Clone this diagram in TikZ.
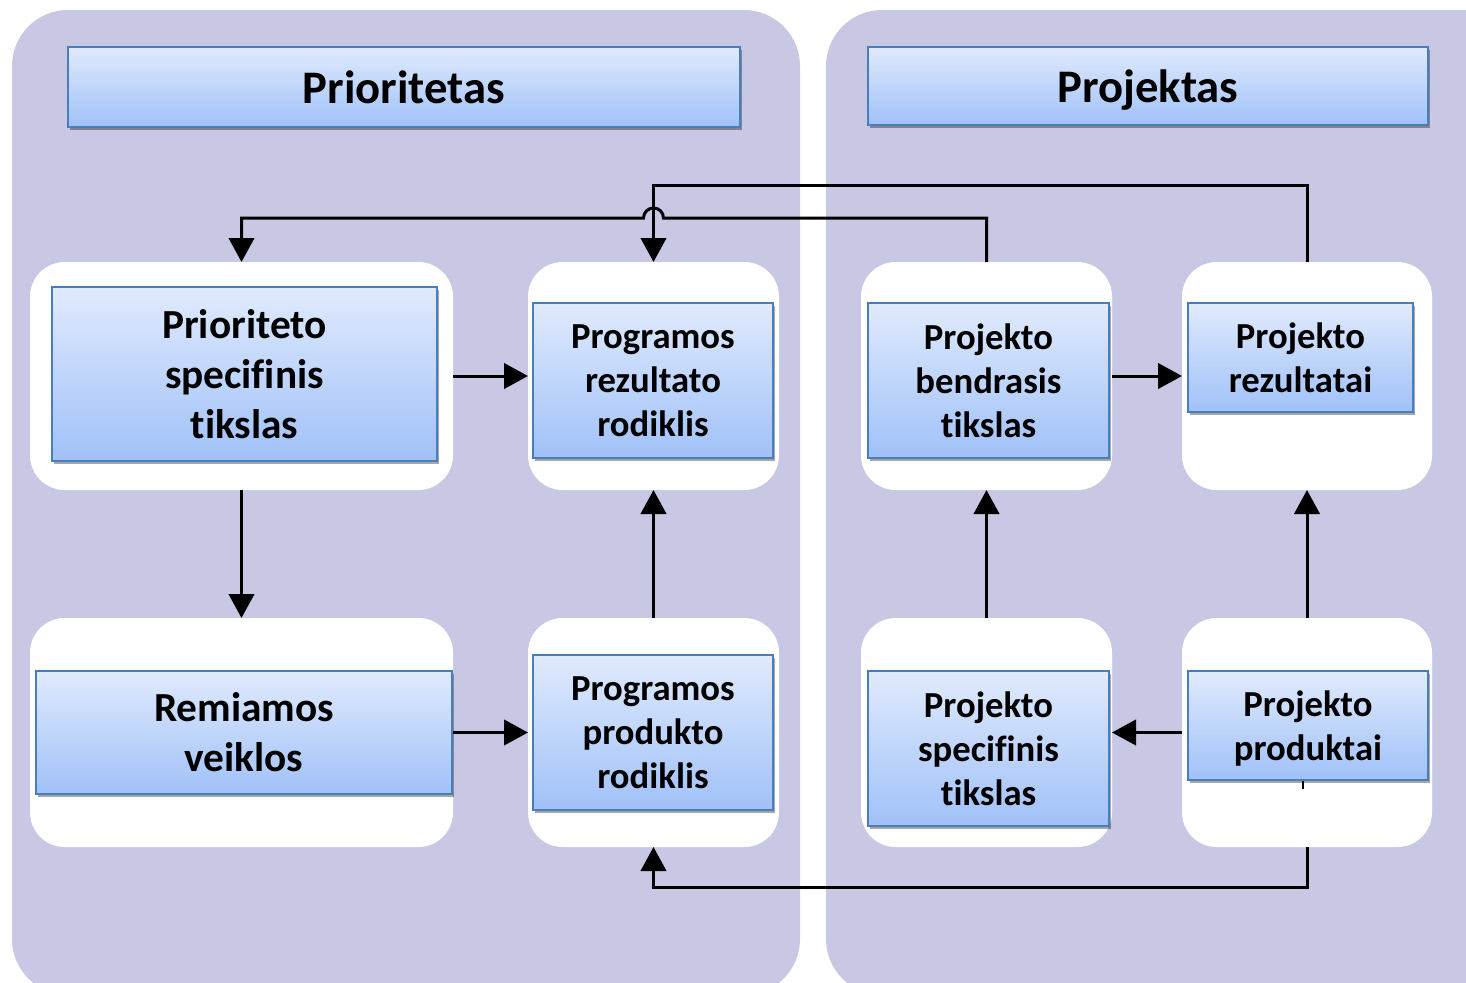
\documentclass[tikz,border=0pt]{standalone}
\usepackage{fontspec}
\setmainfont[RawFeature={-liga,-clig,-calt,-dlig,-hlig}]{Carlito}
\usetikzlibrary{arrows.meta,shadows,calc}
\definecolor{panel}{RGB}{200,200,228}
\definecolor{btop}{RGB}{224,234,253}
\definecolor{bbot}{RGB}{160,193,248}
\definecolor{bline}{RGB}{74,126,187}
\tikzset{
  wbox/.style={draw=none,fill=white,rounded corners=26pt,inner sep=0pt,outer sep=0pt},
  bbox/.style={draw=bline,line width=1.5pt,top color=btop,bottom color=bbot,inner sep=0pt,outer sep=0pt,
    align=center,font=\bfseries,
    drop shadow={shadow xshift=1.2pt,shadow yshift=-2pt,opacity=0.35,fill=black}},
  bigtxt/.style={font=\fontsize{31}{37.5}\selectfont\bfseries},
  smalltxt/.style={font=\fontsize{27.5}{33}\selectfont\bfseries},
  titletxt/.style={font=\fontsize{35}{42}\selectfont\bfseries},
  conn/.style={line width=2.25pt,-{Triangle[width=19pt,length=18pt]}},
}
\begin{document}
\begin{tikzpicture}[x=0.75pt,y=-0.75pt]
\useasboundingbox (0,0) rectangle (1466,982);
\fill[white] (0,0) rectangle (1466,982);
\begin{scope}
\clip (0,0) rectangle (1466,982);
\fill[panel,rounded corners=42pt] (12,10) rectangle (800,995);
\fill[panel,rounded corners=42pt] (826,10) rectangle (1540,995);
\end{scope}
% titles
\node[bbox,titletxt,minimum width={672*0.75pt},minimum height={80*0.75pt}] (t1) at (404,87) {Prioritetas};
\node[bbox,titletxt,text depth=0pt,minimum width={560*0.75pt},minimum height={78*0.75pt}] (t2) at (1148,86) {Projektas};
% white boxes
\node[wbox,minimum width={423*0.75pt},minimum height={228*0.75pt}] (w1) at (241.5,376) {};
\node[wbox,minimum width={251*0.75pt},minimum height={228*0.75pt}] (w2) at (653.5,376) {};
\node[wbox,minimum width={251*0.75pt},minimum height={228*0.75pt}] (w3) at (986.5,376) {};
\node[wbox,minimum width={250*0.75pt},minimum height={228*0.75pt}] (w4) at (1307,376) {};
\node[wbox,minimum width={423*0.75pt},minimum height={229*0.75pt}] (w5) at (241.5,732.5) {};
\node[wbox,minimum width={251*0.75pt},minimum height={229*0.75pt}] (w6) at (653.5,732.5) {};
\node[wbox,minimum width={251*0.75pt},minimum height={229*0.75pt}] (w7) at (986.5,732.5) {};
\node[wbox,minimum width={250*0.75pt},minimum height={229*0.75pt}] (w8) at (1307,732.5) {};
% stub under Projekto produktai
\coordinate (stub) at (1303,789);
\draw[line width=2pt] (1303,775) -- (stub);
% blue boxes
\node[bbox,bigtxt,minimum width={385*0.75pt},minimum height={174*0.75pt}] (b1) at (244.5,374) {Prioriteto\\specifinis\\tikslas};
\node[bbox,smalltxt,minimum width={240*0.75pt},minimum height={155*0.75pt}] (b2) at (653,380.5) {Programos\\rezultato\\rodiklis};
\node[bbox,smalltxt,minimum width={241*0.75pt},minimum height={155*0.75pt}] (b3) at (988.5,380.5) {Projekto\\bendrasis\\tikslas};
\node[bbox,smalltxt,minimum width={225*0.75pt},minimum height={109*0.75pt}] (b4) at (1300.5,357.5) {Projekto\\rezultatai};
\node[bbox,bigtxt,minimum width={416*0.75pt},minimum height={123*0.75pt}] (b5) at (244,732.5) {Remiamos\\veiklos};
\node[bbox,smalltxt,minimum width={240*0.75pt},minimum height={155*0.75pt}] (b6) at (653,732.5) {Programos\\produkto\\rodiklis};
\node[bbox,smalltxt,minimum width={241*0.75pt},minimum height={155*0.75pt}] (b7) at (988.5,748.5) {Projekto\\specifinis\\tikslas};
\node[bbox,smalltxt,text depth=0pt,minimum width={240*0.75pt},minimum height={109*0.75pt}] (b8) at (1308,725.5) {Projekto\\produktai};
% connectors
\draw[conn] (w1.east) -- (w2.west);
\draw[conn] (w1.south) -- (w5.north);
\draw[conn] (w5.east) -- (w6.west);
\draw[conn] (w6.north) -- (w2.south);
\draw[conn] (w7.north) -- (w3.south);
\draw[conn] (w8.north) -- (w4.south);
\draw[conn] (w3.east) -- (w4.west);
\draw[conn] (w8.west) -- (w7.east);
\draw[conn] (w8.south) -- ++(0,40) -| (w6.south);
\draw[conn] (w4.north) -- ++(0,-77) -| (w2.north);
\draw[conn] (w3.north) -- ++(0,-44) -- ($(w2.north)+(10,-44)$) arc (0:-180:10) -| (w1.north);
\end{tikzpicture}
\end{document}
